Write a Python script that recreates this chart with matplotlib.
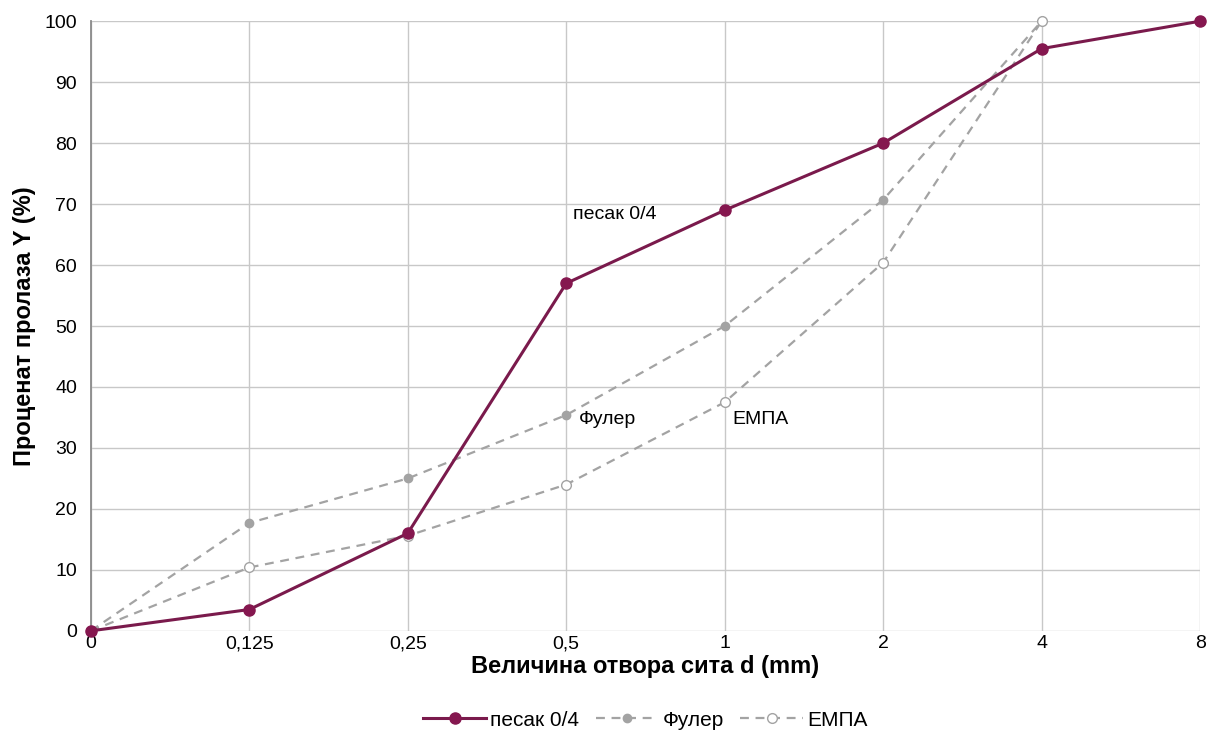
import matplotlib
matplotlib.use("Agg")
import matplotlib.pyplot as plt

plt.rcParams['font.family'] = ['Liberation Sans', 'DejaVu Sans']

sieves = ["0", "0,125", "0,25", "0,5", "1", "2", "4", "8"]
pesak = [0, 3.5, 16, 57, 69, 80, 95.5, 100]
fuler = [0, 17.7, 25, 35.4, 50, 70.7, 100]
empa = [0, 10.4, 15.6, 24, 37.5, 60.4, 100]

x = list(range(len(sieves)))

fig = plt.figure(figsize=(12.11, 7.31), dpi=100)
ax = fig.add_axes([0.075, 0.137, 0.916, 0.834])

ax.plot(x[:len(fuler)], fuler, color="#a3a3a3", linestyle=(0, (4, 3)), linewidth=1.6,
        marker="o", markersize=6, markerfacecolor="#a3a3a3", markeredgecolor="#a3a3a3",
        label="Фулер", zorder=3, clip_on=False)
ax.plot(x[:len(empa)], empa, color="#a3a3a3", linestyle=(0, (4, 3)), linewidth=1.6,
        marker="o", markersize=7, markerfacecolor="white", markeredgecolor="#a3a3a3",
        label="ЕМПА", zorder=3, clip_on=False)
ax.plot(x, pesak, color="#7a1a4c", linewidth=2.2, marker="o", markersize=8,
        markerfacecolor="#85174f", markeredgecolor="#85174f", label="песак 0/4",
        zorder=4, clip_on=False)

ax.set_xlim(0, 7)
ax.set_ylim(0, 100)
ax.set_xticks(x)
ax.set_xticklabels(sieves)
ax.set_yticks(range(0, 101, 10))
ax.tick_params(labelsize=14, length=0)
ax.tick_params(axis="y", pad=10)
ax.tick_params(axis="x", pad=3)
ax.grid(True, color="#c8c8c8", linewidth=1)
ax.set_axisbelow(True)
for s in ["top", "right", "bottom"]:
    ax.spines[s].set_visible(False)
ax.spines["left"].set_color("#8a8a8a")
ax.spines["left"].set_linewidth(1.3)

ax.set_xlabel("Величина отвора сита d (mm)", fontsize=17, fontweight="bold", labelpad=2)
ax.set_ylabel("Проценат пролаза Y (%)", fontsize=17, fontweight="bold", labelpad=6)

ax.text(3.04, 67.5, "песак 0/4", fontsize=14)
ax.text(3.08, 34.0, "Фулер", fontsize=14)
ax.text(4.05, 34.0, "ЕМПА", fontsize=14)

h, l = ax.get_legend_handles_labels()
order = [2, 0, 1]
ax.legend([h[i] for i in order], [l[i] for i in order], loc="upper center",
          bbox_to_anchor=(0.5, -0.10), ncol=3, frameon=False, fontsize=15,
          handlelength=3, columnspacing=0.8, handletextpad=0.2)

fig.savefig("out.png", dpi=100)
